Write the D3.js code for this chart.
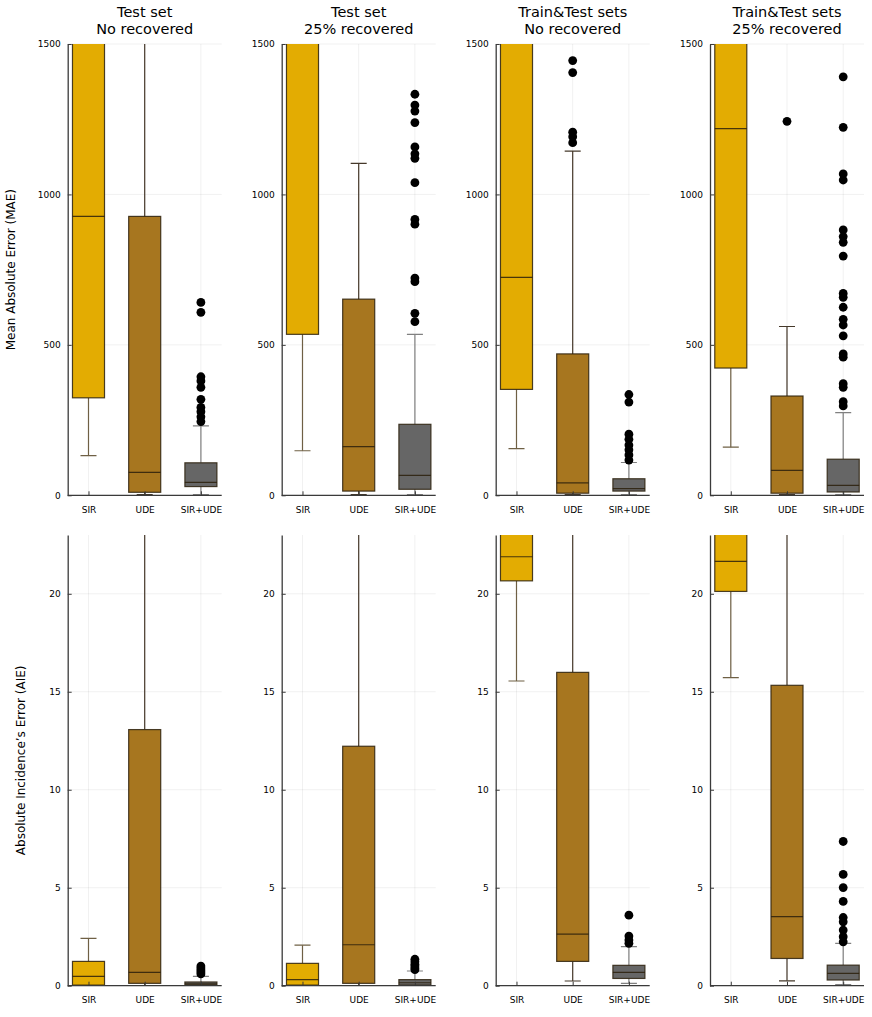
<!DOCTYPE html>
<html>
<head>
<meta charset="utf-8">
<script src="https://cdn.jsdelivr.net/npm/d3@7"></script>
<style>
  body { margin: 0; background: #fff; }
  svg { font-family: "DejaVu Sans", sans-serif; }
</style>
</head>
<body>
<svg id="chart" width="872" height="1017"></svg>
<script>
// categories and panel titles
var groups = ["SIR", "UDE", "SIR+UDE"];
var titles = [["Test set", "No recovered"], ["Test set", "25% recovered"],
              ["Train&Test sets", "No recovered"], ["Train&Test sets", "25% recovered"]];
var maeTicks = [0, 500, 1000, 1500];
var aieTicks = [0, 5, 10, 15, 20];

// MAE (top row): one row per panel, [SIR, UDE, SIR+UDE]
var maeLow  = [[132, 2, 2], [148, 2, 2], [155, 2, 2], [160, 2, 2]];
var maeQ1   = [[324, 10, 29], [535, 14, 20], [352, 7, 14], [423, 7, 11]];
var maeMed  = [[927, 76, 43], [1700, 162, 66], [724, 41, 22], [1219, 83, 33]];
var maeQ3   = [[2400, 927, 108], [2600, 652, 236], [2300, 470, 55], [2500, 330, 120]];
var maeHigh = [[4000, 2300, 231], [4500, 1103, 535], [3800, 1144, 109], [4200, 561, 275]];
var maeOut  = [
  [[], [], [641, 608, 394, 380, 359, 319, 292, 278, 261, 245]],
  [[], [], [1333, 1297, 1277, 1239, 1158, 1135, 1120, 1039, 917, 901, 722, 710, 605, 577]],
  [[], [1445, 1405, 1207, 1192, 1172], [335, 310, 203, 186, 167, 151, 134, 117]],
  [[], [1243], [1391, 1223, 1068, 1048, 882, 860, 841, 795, 671, 658, 625, 585, 566, 530, 470, 459, 371, 359, 311, 297]]
];

// AIE (bottom row)
var aieLow  = [[0, 0.01, 0], [0, 0.01, 0], [15.55, 0.24, 0.12], [15.72, 0.25, 0.05]];
var aieQ1   = [[0.03, 0.12, 0.05], [0.03, 0.12, 0.03], [20.66, 1.24, 0.37], [20.12, 1.39, 0.29]];
var aieMed  = [[0.48, 0.68, 0.1], [0.31, 2.09, 0.15], [21.89, 2.63, 0.68], [21.65, 3.52, 0.63]];
var aieQ3   = [[1.24, 13.07, 0.19], [1.14, 12.22, 0.31], [24.5, 15.99, 1.04], [24.2, 15.33, 1.05]];
var aieHigh = [[2.41, 30, 0.48], [2.07, 29, 0.75], [28, 31, 1.99], [27, 30, 2.16]];
var aieOut  = [
  [[], [], [1.0, 0.9, 0.8, 0.7, 0.6]],
  [[], [], [1.35, 1.22, 1.1, 1.0, 0.9, 0.82]],
  [[], [], [3.6, 2.53, 2.33, 2.16]],
  [[], [], [7.36, 5.68, 5.01, 4.30, 3.48, 3.26, 2.84, 2.50, 2.24]]
];

var fills = ["#e3ac02", "#a7761f", "#666666"];
var whiskerColors = ["#6f6045", "#45382a", "#808080"];

var svg = d3.select("#chart");
var panelLeft = [67.7, 281.7, 495.7, 710];
var panelW = 154;
var rows = [
  { top: 44, bottom: 495.3, max: 1500, ticks: maeTicks, low: maeLow, q1: maeQ1, med: maeMed, q3: maeQ3, high: maeHigh, out: maeOut,
    label: "Mean Absolute Error (MAE)", labelX: 11 },
  { top: 535, bottom: 985.7, max: 23, ticks: aieTicks, low: aieLow, q1: aieQ1, med: aieMed, q3: aieQ3, high: aieHigh, out: aieOut,
    label: "Absolute Incidence\u2019s Error (AIE)", labelX: 21 }
];

rows.forEach(function(row, r) {
  var y = d3.scaleLinear().domain([0, row.max]).range([row.bottom, row.top]);

  svg.append("text")
    .attr("transform", "translate(" + row.labelX + "," + (row.top + row.bottom) / 2 + ") rotate(-90)")
    .attr("text-anchor", "middle")
    .attr("dy", "0.35em")
    .attr("font-size", 12)
    .text(row.label);

  panelLeft.forEach(function(left, p) {
    var x = d3.scalePoint().domain(groups).range([left, left + panelW]).padding(0.37);
    var step = x.step();
    var bw = step * 0.57;
    var clipId = "clip" + r + "_" + p;

    svg.append("clipPath").attr("id", clipId)
      .append("rect").attr("x", left).attr("y", row.top).attr("width", panelW).attr("height", row.bottom - row.top);

    var g = svg.append("g");

    // grid
    g.selectAll(".hgrid").data(row.ticks).enter().append("line")
      .attr("x1", left).attr("x2", left + panelW)
      .attr("y1", function(d) { return y(d); }).attr("y2", function(d) { return y(d); })
      .attr("stroke", "#000").attr("stroke-opacity", 0.08).attr("stroke-width", 0.8);
    g.selectAll(".vgrid").data(groups).enter().append("line")
      .attr("x1", function(d) { return x(d); }).attr("x2", function(d) { return x(d); })
      .attr("y1", row.top).attr("y2", row.bottom)
      .attr("stroke", "#000").attr("stroke-opacity", 0.08).attr("stroke-width", 0.8);

    var boxes = groups.map(function(name, i) {
      return { name: name, i: i, low: row.low[p][i], q1: row.q1[p][i], med: row.med[p][i],
               q3: row.q3[p][i], high: row.high[p][i], out: row.out[p][i] };
    });

    var plot = g.append("g").attr("clip-path", "url(#" + clipId + ")");
    var b = plot.selectAll(".box").data(boxes).enter().append("g");

    // whiskers
    b.append("line")
      .attr("x1", function(d) { return x(d.name); }).attr("x2", function(d) { return x(d.name); })
      .attr("y1", function(d) { return y(d.q3); }).attr("y2", function(d) { return y(d.high); })
      .attr("stroke", function(d) { return whiskerColors[d.i]; }).attr("stroke-width", 1.2);
    b.append("line")
      .attr("x1", function(d) { return x(d.name); }).attr("x2", function(d) { return x(d.name); })
      .attr("y1", function(d) { return y(d.q1); }).attr("y2", function(d) { return y(d.low); })
      .attr("stroke", function(d) { return whiskerColors[d.i]; }).attr("stroke-width", 1.2);
    [function(d) { return y(d.high); }, function(d) { return y(d.low); }].forEach(function(fy) {
      b.append("line")
        .attr("x1", function(d) { return x(d.name) - bw / 4; }).attr("x2", function(d) { return x(d.name) + bw / 4; })
        .attr("y1", fy).attr("y2", fy)
        .attr("stroke", function(d) { return whiskerColors[d.i]; }).attr("stroke-width", 1.2);
    });

    // box
    b.append("rect")
      .attr("x", function(d) { return x(d.name) - bw / 2; })
      .attr("y", function(d) { return y(d.q3); })
      .attr("width", bw)
      .attr("height", function(d) { return y(d.q1) - y(d.q3); })
      .attr("fill", function(d) { return fills[d.i]; })
      .attr("stroke", "#2b200c").attr("stroke-opacity", 0.85).attr("stroke-width", 1.2);
    b.append("line")
      .attr("x1", function(d) { return x(d.name) - bw / 2; }).attr("x2", function(d) { return x(d.name) + bw / 2; })
      .attr("y1", function(d) { return y(d.med); }).attr("y2", function(d) { return y(d.med); })
      .attr("stroke", "#2b200c").attr("stroke-opacity", 0.85).attr("stroke-width", 1.2);

    // outliers
    b.each(function(d) {
      d3.select(this).selectAll("circle").data(d.out).enter().append("circle")
        .attr("cx", x(d.name)).attr("cy", function(v) { return y(v); })
        .attr("r", 4.4).attr("fill", "#000");
    });

    // axes
    var ya = g.append("g").attr("transform", "translate(" + left + ",0)")
      .call(d3.axisLeft(y).tickValues(row.ticks).tickFormat(d3.format("d"))
        .tickSizeInner(-4).tickSizeOuter(0).tickPadding(7));
    var xa = g.append("g").attr("transform", "translate(0," + row.bottom + ")")
      .call(d3.axisBottom(x).tickSizeInner(-4).tickSizeOuter(0).tickPadding(11));
    [ya, xa].forEach(function(a) {
      a.select(".domain").attr("stroke", "#3a3a3a").attr("stroke-width", 1.3);
      a.selectAll(".tick line").attr("stroke", "#3a3a3a");
      a.selectAll("text").attr("font-size", 9).attr("fill", "#000")
        .attr("font-family", "DejaVu Sans, sans-serif");
    });
    ya.selectAll("text").attr("dy", "0.32em");
    xa.select(".domain").attr("d", "M" + left + ",0H" + (left + panelW));

    // panel title, two lines
    if (r === 0) {
      svg.append("text").attr("text-anchor", "middle").attr("font-size", 14.5)
        .attr("x", left + panelW / 2).attr("y", 17).text(titles[p][0]);
      svg.append("text").attr("text-anchor", "middle").attr("font-size", 14.5)
        .attr("x", left + panelW / 2).attr("y", 33.5).text(titles[p][1]);
    }
  });
});
</script>
</body>
</html>
